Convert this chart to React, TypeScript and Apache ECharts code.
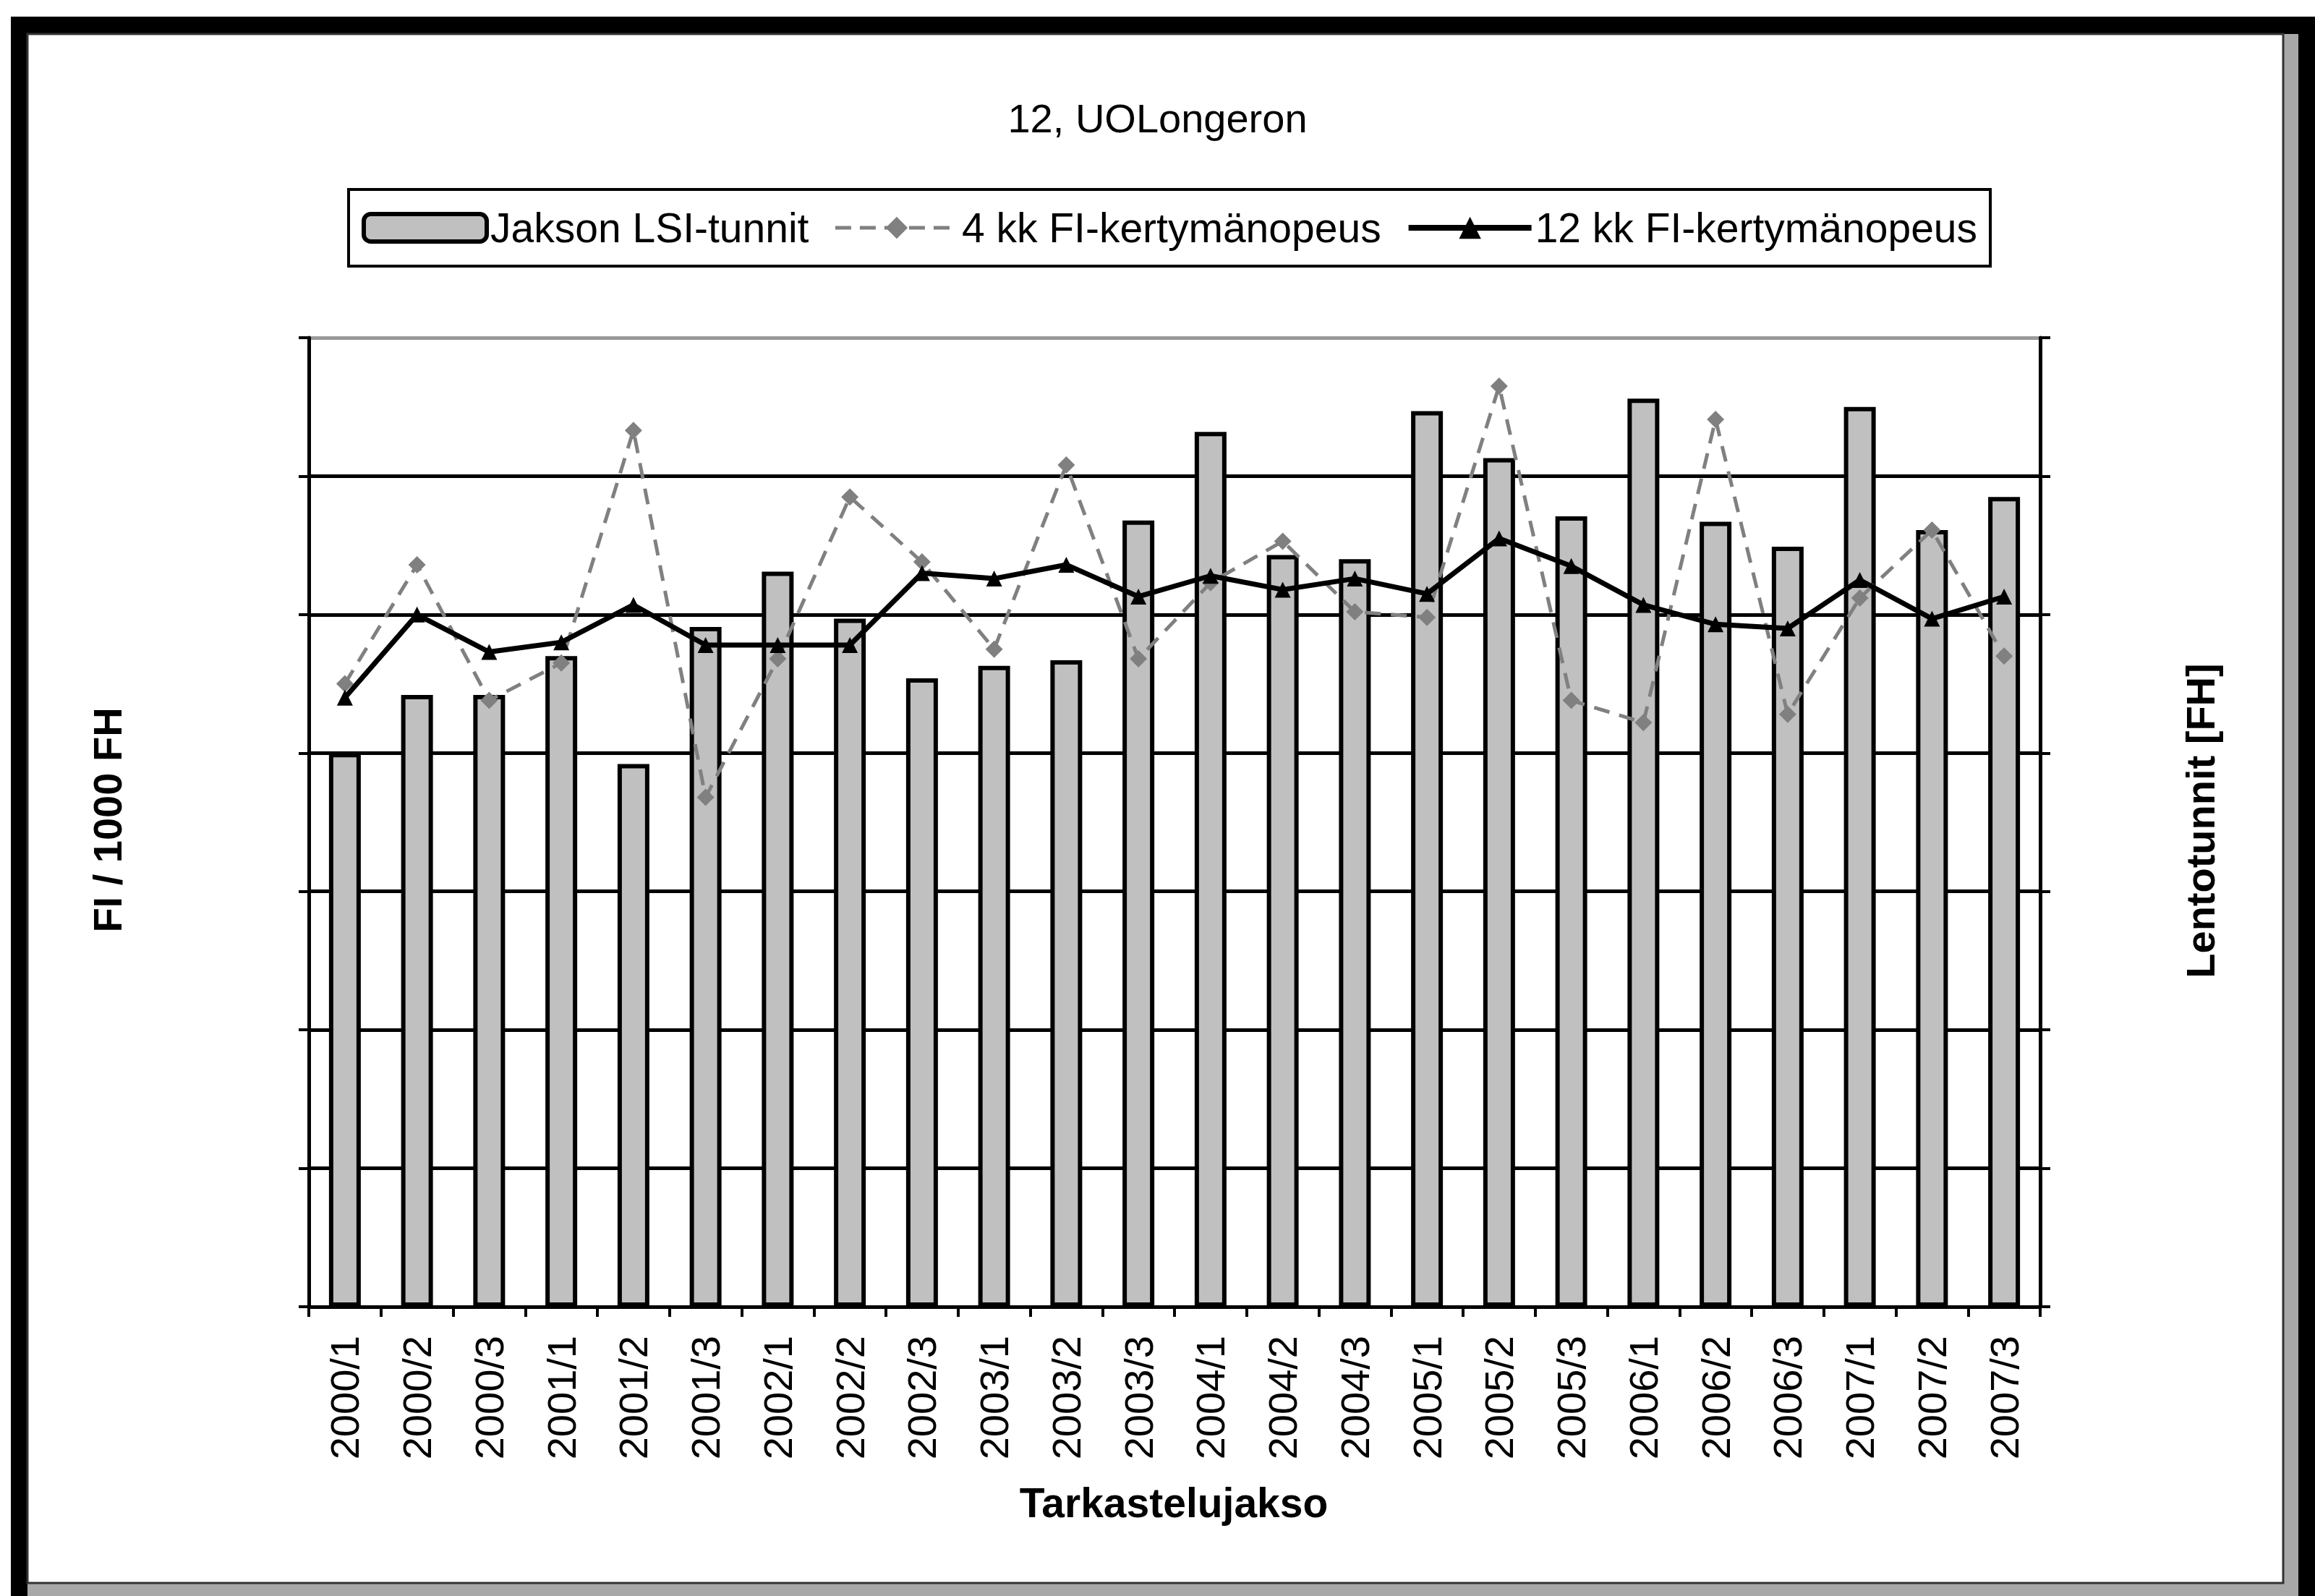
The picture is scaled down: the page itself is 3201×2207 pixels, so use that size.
import React, { useEffect, useRef } from "react";
import * as echarts from "echarts";

const periods = [
  "2000/1", "2000/2", "2000/3", "2001/1", "2001/2", "2001/3",
  "2002/1", "2002/2", "2002/3", "2003/1", "2003/2", "2003/3",
  "2004/1", "2004/2", "2004/3", "2005/1", "2005/2", "2005/3",
  "2006/1", "2006/2", "2006/3", "2007/1", "2007/2", "2007/3",
];

// Jakson LSI-tunnit (bars, right axis, no tick labels shown -> gridline units)
const lsiHours = [
  4.0, 4.42, 4.42, 4.7, 3.92, 4.91, 5.31, 4.97, 4.54, 4.63, 4.67, 5.68,
  6.32, 5.43, 5.4, 6.47, 6.13, 5.71, 6.56, 5.67, 5.49, 6.5, 5.61, 5.85,
];

// 4 kk FI-kertymänopeus (gray dashed, diamonds)
const rate4 = [
  4.5, 5.36, 4.38, 4.65, 6.33, 3.68, 4.68, 5.85, 5.38, 4.75, 6.08, 4.68,
  5.23, 5.53, 5.02, 4.98, 6.65, 4.38, 4.22, 6.41, 4.28, 5.12, 5.61, 4.7,
];

// 12 kk FI-kertymänopeus (black, triangles)
const rate12 = [
  4.4, 5.0, 4.73, 4.8, 5.07, 4.78, 4.78, 4.78, 5.3, 5.26, 5.36, 5.13,
  5.28, 5.18, 5.26, 5.15, 5.55, 5.35, 5.07, 4.93, 4.9, 5.25, 4.97, 5.13,
];

const seriesNames = ["Jakson LSI-tunnit", "4 kk FI-kertymänopeus", "12 kk FI-kertymänopeus"];
const titleText = "12, UOLongeron";
const leftTitle = "FI / 1000 FH";
const rightTitle = "Lentotunnit [FH]";
const xTitle = "Tarkastelujakso";

const FONT = '"Liberation Sans", Arial, sans-serif';

export default function App() {
  const ref = useRef<HTMLDivElement>(null);

  useEffect(() => {
    if (!ref.current) return;
    const chart = echarts.init(ref.current, undefined, { renderer: "svg" });
    const splitColors = ["#000", "#000", "#000", "#000", "#000", "#000", "#000", "#9a9a9a"];
    chart.setOption({
      animation: false,
      backgroundColor: "#ffffff",
      title: {
        text: titleText,
        left: "center",
        top: 130,
        textStyle: { fontSize: 56, fontWeight: "normal", fontFamily: FONT, color: "#000" },
      },
      legend: {
        data: [
          { name: seriesNames[0], itemStyle: { color: "#c0c0c0", borderColor: "#000", borderWidth: 6 } },
          {
            name: seriesNames[1],
            itemStyle: { color: "#808080" },
            lineStyle: { color: "#808080", width: 5, type: [22, 12] },
          },
          {
            name: seriesNames[2],
            itemStyle: { color: "#000" },
            lineStyle: { color: "#000", width: 8 },
          },
        ],
        left: 482,
        top: 262,
        orient: "horizontal",
        borderColor: "#000",
        borderWidth: 4,
        padding: [23, 18],
        itemWidth: 170,
        itemHeight: 38,
        itemGap: 34,
        textStyle: { fontSize: 57, fontFamily: FONT, color: "#000", lineHeight: 60 },
      },
      grid: { left: 427, top: 467, width: 2394, height: 1340, containLabel: false },
      xAxis: {
        type: "category",
        data: periods,
        boundaryGap: true,
        axisLine: { show: true, lineStyle: { color: "#000", width: 5 } },
        axisTick: { show: true, interval: 0, length: 14, lineStyle: { color: "#000", width: 4 } },
        axisLabel: {
          interval: 0,
          rotate: 90,
          margin: 40,
          fontSize: 56,
          fontFamily: FONT,
          color: "#000",
        },
        splitLine: { show: false },
      },
      yAxis: [
        {
          type: "value",
          position: "left",
          min: 0,
          max: 7,
          interval: 1,
          axisLine: { show: true, lineStyle: { color: "#000", width: 5 } },
          axisTick: { show: true, length: 14, lineStyle: { color: "#000", width: 4 } },
          axisLabel: { show: false },
          splitLine: { show: true, lineStyle: { color: splitColors, width: 5 } },
        },
        {
          type: "value",
          position: "right",
          min: 0,
          max: 7,
          interval: 1,
          axisLine: { show: true, lineStyle: { color: "#000", width: 5 } },
          axisTick: { show: true, length: 14, lineStyle: { color: "#000", width: 4 } },
          axisLabel: { show: false },
          splitLine: { show: false },
        },
      ],
      series: [
        {
          name: seriesNames[0],
          type: "bar",
          yAxisIndex: 1,
          data: lsiHours,
          barWidth: 44,
          itemStyle: { color: "#c0c0c0", borderColor: "#000", borderWidth: 6 },
          z: 2,
        },
        {
          name: seriesNames[1],
          type: "line",
          yAxisIndex: 0,
          data: rate4,
          symbol: "diamond",
          symbolSize: 24,
          itemStyle: { color: "#808080" },
          lineStyle: { color: "#808080", width: 5, type: [22, 14] },
          z: 3,
        },
        {
          name: seriesNames[2],
          type: "line",
          yAxisIndex: 0,
          data: rate12,
          symbol: "triangle",
          symbolSize: 22,
          itemStyle: { color: "#000" },
          lineStyle: { color: "#000", width: 7 },
          z: 4,
        },
      ],
      graphic: [
        { type: "rect", z: -100, shape: { x: 15, y: 23, width: 3186, height: 2184 }, style: { fill: "#000" }, silent: true },
        { type: "rect", z: -99, shape: { x: 38, y: 47, width: 3140, height: 2160 }, style: { fill: "#a8a8a8" }, silent: true },
        { type: "rect", z: -98, shape: { x: 38, y: 47, width: 3119, height: 2142 }, style: { fill: "#fff", stroke: "#333", lineWidth: 3 }, silent: true },
        {
          type: "text",
          x: 148,
          y: 1134,
          rotation: Math.PI / 2,
          z: 100,
          style: {
            text: leftTitle,
            fontSize: 56,
            fontWeight: "bold",
            fontFamily: FONT,
            fill: "#000",
            align: "center",
            verticalAlign: "middle",
            textAlign: "center",
            textVerticalAlign: "middle",
          },
        },
        {
          type: "text",
          x: 3042,
          y: 1135,
          rotation: Math.PI / 2,
          z: 100,
          style: {
            text: rightTitle,
            fontSize: 56,
            fontWeight: "bold",
            fontFamily: FONT,
            fill: "#000",
            align: "center",
            verticalAlign: "middle",
            textAlign: "center",
            textVerticalAlign: "middle",
          },
        },
        {
          type: "text",
          x: 1623,
          y: 2078,
          z: 100,
          style: {
            text: xTitle,
            fontSize: 57,
            fontWeight: "bold",
            fontFamily: FONT,
            fill: "#000",
            align: "center",
            verticalAlign: "middle",
            textAlign: "center",
            textVerticalAlign: "middle",
          },
        },
      ],
    });
    return () => chart.dispose();
  }, []);

  return (
    <div
      ref={ref}
      style={{ position: "absolute", left: 0, top: 0, width: 3201, height: 2207 }}
    />
  );
}
